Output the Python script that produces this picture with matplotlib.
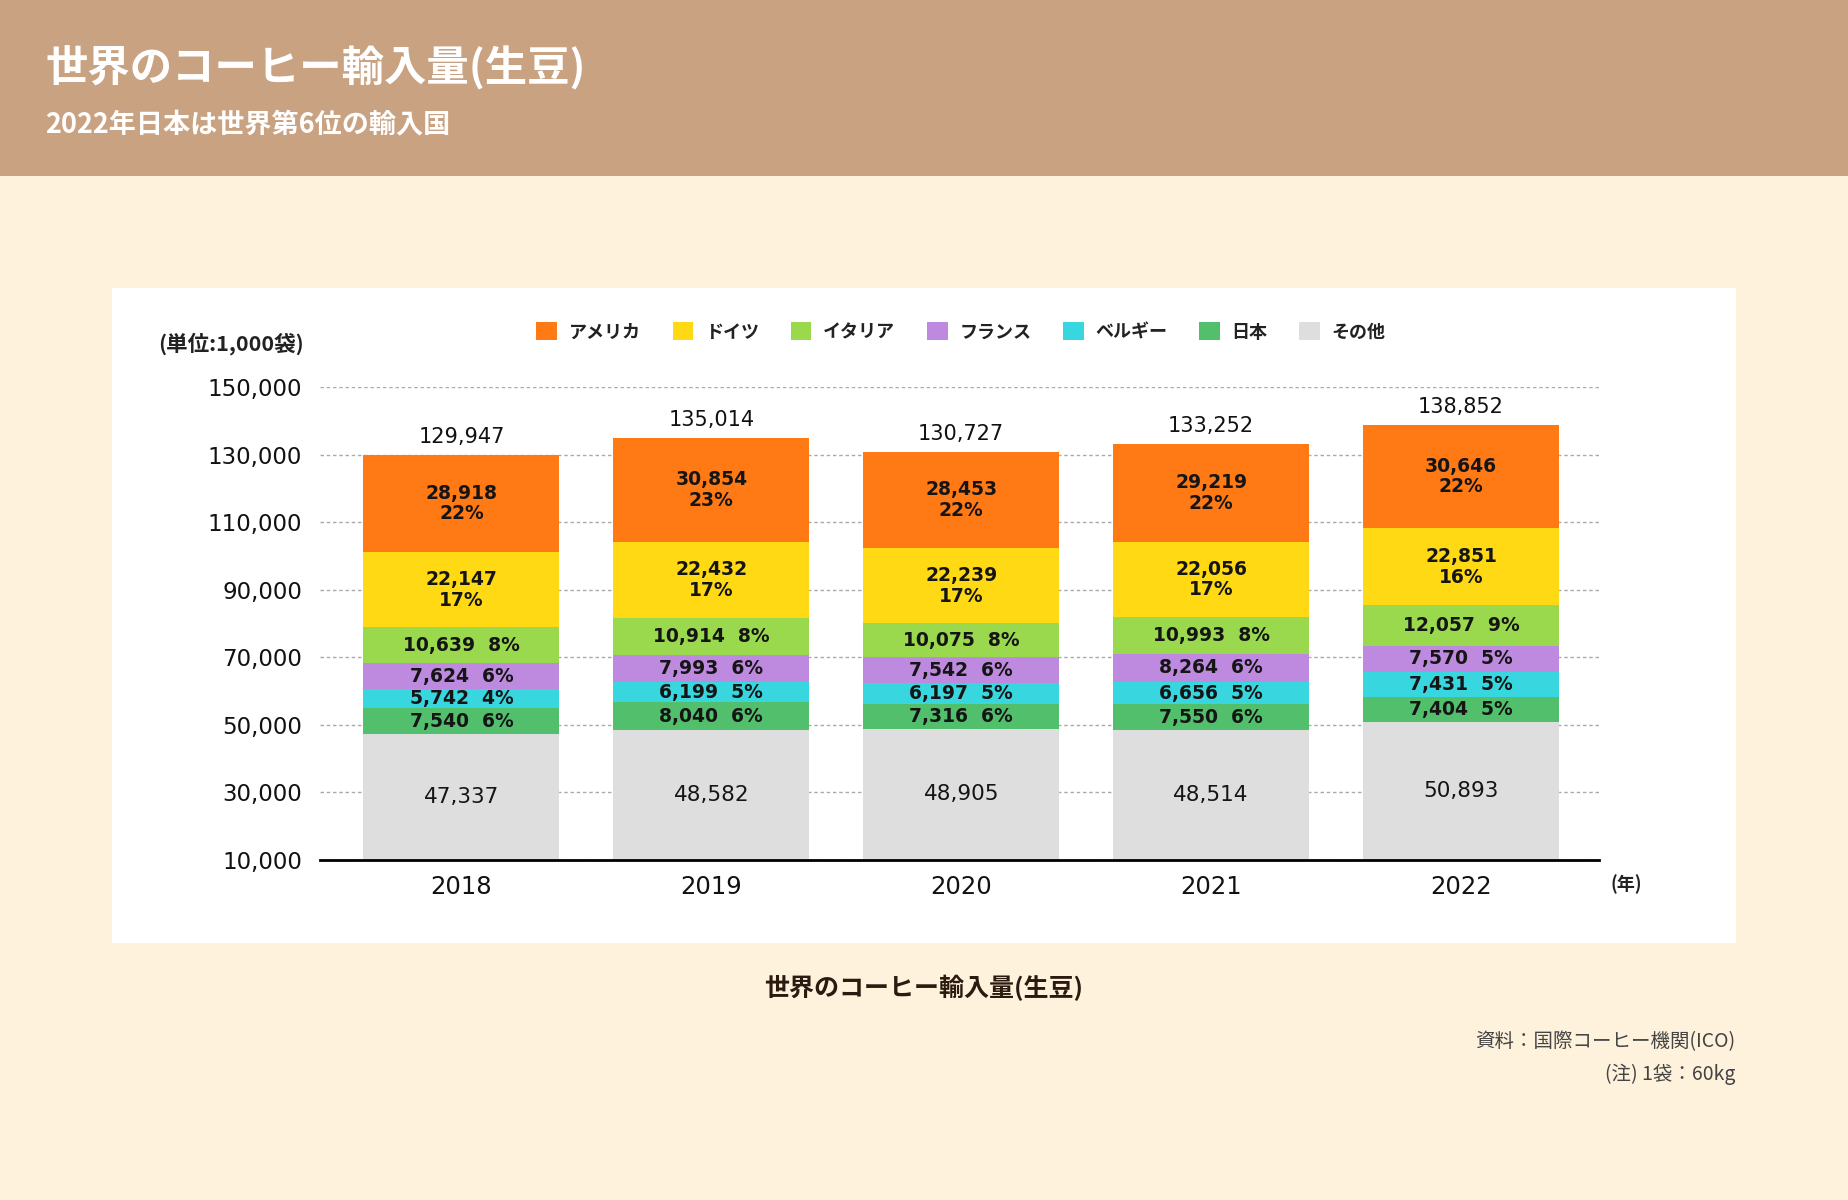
import matplotlib
matplotlib.use('Agg')
import matplotlib.pyplot as plt
from matplotlib.patches import Rectangle, Patch

# ---- data ----
years = ['2018', '2019', '2020', '2021', '2022']
countries = ['アメリカ', 'ドイツ', 'イタリア', 'フランス', 'ベルギー', '日本', 'その他']
usa = [28918, 30854, 28453, 29219, 30646]
germany = [22147, 22432, 22239, 22056, 22851]
italy = [10639, 10914, 10075, 10993, 12057]
france = [7624, 7993, 7542, 8264, 7570]
belgium = [5742, 6199, 6197, 6656, 7431]
japan = [7540, 8040, 7316, 7550, 7404]
others = [47337, 48582, 48905, 48514, 50893]
totals = [129947, 135014, 130727, 133252, 138852]
yticks = [10000, 30000, 50000, 70000, 90000, 110000, 130000, 150000]

colors = {'アメリカ': '#FF7A15', 'ドイツ': '#FFD914', 'イタリア': '#9AD94E',
          'フランス': '#BE8AE0', 'ベルギー': '#38D6DE', '日本': '#52BF6C',
          'その他': '#DEDEDE'}
series = {'アメリカ': usa, 'ドイツ': germany, 'イタリア': italy, 'フランス': france,
          'ベルギー': belgium, '日本': japan, 'その他': others}
stack_order = ['その他', '日本', 'ベルギー', 'フランス', 'イタリア', 'ドイツ', 'アメリカ']

JP = ['Noto Sans CJK JP', 'DejaVu Sans']
NUM = ['DejaVu Sans', 'Noto Sans CJK JP']
plt.rcParams['font.family'] = JP

W, H = 1848, 1200
def fx(px):
    return px / W
def fy(py):
    return 1 - py / H

fig = plt.figure(figsize=(W / 100, H / 100), dpi=100, facecolor='#FEF2DC')

# header band and white panel
fig.patches.append(Rectangle((0, fy(176)), 1, 176 / H, transform=fig.transFigure,
                             facecolor='#C9A282', edgecolor='none', zorder=-10))
fig.patches.append(Rectangle((fx(112), fy(943)), (1736 - 112) / W, (943 - 288) / H,
                             transform=fig.transFigure, facecolor='white',
                             edgecolor='none', zorder=-10))

fig.text(fx(45), fy(68), '世界のコーヒー輸入量(生豆)', color='white', fontsize=30.5,
         weight='bold', ha='left', va='center', family=JP)
fig.text(fx(45), fy(125), '2022年日本は世界第6位の輸入国', color='white', fontsize=19.5,
         weight='bold', ha='left', va='center', family=JP)

ax = fig.add_axes([fx(320), fy(860), (1599 - 320) / W, (860 - 387) / H])
ax.set_facecolor('none')
ax.set_zorder(5)
x = list(range(len(years)))
bw = 0.784

bottom = [0] * len(years)
for name in stack_order:
    vals = series[name]
    ax.bar(x, vals, bw, bottom=bottom, color=colors[name], edgecolor='none',
           zorder=2, label=name)
    for i, v in enumerate(vals):
        pct = round(v / totals[i] * 100)
        if name in ('アメリカ', 'ドイツ'):
            s = f'{v:,}\n{pct}%'
        elif name == 'その他':
            s = f'{v:,}'
        else:
            s = f'{v:,}  {pct}%'
        yc = bottom[i] + v / 2
        if name == 'その他':
            yc = (max(bottom[i], 10000) + bottom[i] + v) / 2
            ax.text(i, yc, s, ha='center', va='center', fontsize=15.5,
                    color='#151515', family=NUM, zorder=3)
        else:
            ax.text(i, yc, s, ha='center', va='center', fontsize=13.5,
                    weight='bold', color='#151515', family=NUM,
                    linespacing=1.1, zorder=3)
    bottom = [b + v for b, v in zip(bottom, vals)]

for i, t in enumerate(totals):
    ax.annotate(f'{t:,}', (i, bottom[i]), xytext=(0, 13), textcoords='offset points',
                ha='center', va='center', fontsize=15, color='#111111',
                family=NUM, annotation_clip=False)

ax.set_xlim(-0.566, 4.552)
ax.set_ylim(10000, 150000)
ax.set_yticks(yticks)
ax.set_yticklabels([f'{t:,}' for t in yticks], family=NUM, fontsize=16.5, color='#111111')
ax.set_xticks(x)
ax.set_xticklabels(years, family=NUM, fontsize=17.5, color='#111111')
ax.tick_params(axis='both', length=0)
ax.tick_params(axis='y', pad=13)
ax.tick_params(axis='x', pad=11)
for s in ['left', 'right', 'top']:
    ax.spines[s].set_visible(False)
ax.spines['bottom'].set_color('black')
ax.spines['bottom'].set_linewidth(2)
ax.spines['bottom'].set_zorder(4)
ax.yaxis.grid(True, linestyle=(0, (2.5, 2)), color='#aaaaaa', linewidth=1)
ax.set_axisbelow(True)

# legend
handles = [Patch(facecolor=colors[c], edgecolor='none') for c in countries]
leg = fig.legend(handles, countries, loc='center', bbox_to_anchor=(fx(961), fy(332)),
                 ncol=7, frameon=False, fontsize=13, handlelength=1.15,
                 handleheight=1.15, handletextpad=0.65, columnspacing=1.75,
                 prop={'family': JP, 'weight': 'bold', 'size': 13})
for t in leg.get_texts():
    t.set_color('#222222')

fig.text(fx(231), fy(344), '(単位:1,000袋)', fontsize=15.5, weight='bold', ha='center',
         va='center', color='#222222', family=JP)
fig.text(fx(1626), fy(884), '(年)', fontsize=13, weight='bold', ha='center',
         va='center', color='#222222', family=JP)

fig.text(fx(924), fy(988), '世界のコーヒー輸入量(生豆)', fontsize=18, weight='bold',
         ha='center', va='center', color='#2A1A10', family=JP)
fig.text(fx(1735), fy(1042), '資料：国際コーヒー機関(ICO)', fontsize=14, ha='right',
         va='center', color='#444444', family=JP)
fig.text(fx(1735), fy(1074), '(注) 1袋：60kg', fontsize=14, ha='right',
         va='center', color='#444444', family=JP)

fig.savefig('out.png', dpi=100, facecolor=fig.get_facecolor())
